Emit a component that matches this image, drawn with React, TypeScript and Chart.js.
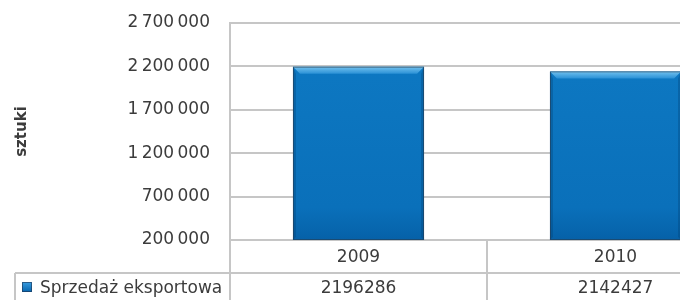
import { useEffect, useRef } from 'react';
import { Chart, registerables } from 'chart.js';

Chart.register(...registerables);

const categories = ['2009', '2010'];
const seriesName = 'Sprzedaż eksportowa';
const exportSales = [2196286, 2142427];
const yTickValues = [200000, 700000, 1200000, 1700000, 2200000, 2700000];
const yTickLabels = [
  '200\u2009000',
  '700\u2009000',
  '1\u2009200\u2009000',
  '1\u2009700\u2009000',
  '2\u2009200\u2009000',
  '2\u2009700\u2009000',
];
const yAxisTitle = 'sztuki';

const FONT = "'DejaVu Sans', sans-serif";
const TEXT = '#3c3c3c';
const GRID = '#c6c6c6';

const barStyle = {
  id: 'barStyle',
  afterDatasetsDraw(chart: any) {
    const ctx = chart.ctx;
    const area = chart.chartArea;
    const meta = chart.getDatasetMeta(0);
    meta.data.forEach((bar: any) => {
      const props = bar.getProps(['x', 'y', 'base', 'width'], true);
      const { x, y, width } = props;
      const base = Math.min(props.base, area.bottom);
      const l = x - width / 2;
      const r = x + width / 2;
      const b = 7;
      ctx.save();
      const g = ctx.createLinearGradient(0, y, 0, y + b);
      g.addColorStop(0, '#74c2ee');
      g.addColorStop(1, '#2b91d6');
      ctx.fillStyle = g;
      ctx.beginPath();
      ctx.moveTo(l, y);
      ctx.lineTo(r, y);
      ctx.lineTo(r - b, y + b);
      ctx.lineTo(l + b, y + b);
      ctx.closePath();
      ctx.fill();
      ctx.fillStyle = 'rgba(0,60,110,0.3)';
      ctx.beginPath();
      ctx.moveTo(l, y);
      ctx.lineTo(l + 3, y + b);
      ctx.lineTo(l + 3, base - 3);
      ctx.lineTo(l, base);
      ctx.closePath();
      ctx.fill();
      ctx.beginPath();
      ctx.moveTo(r, y);
      ctx.lineTo(r - 3, y + b);
      ctx.lineTo(r - 3, base - 3);
      ctx.lineTo(r, base);
      ctx.closePath();
      ctx.fill();
      ctx.strokeStyle = 'rgba(40,60,80,0.6)';
      ctx.lineWidth = 1;
      ctx.strokeRect(l + 0.5, y + 0.5, width - 1, base - y - 1);
      ctx.restore();
    });
  },
};

const dataTable = {
  id: 'dataTable',
  afterDraw(chart: any) {
    const ctx = chart.ctx;
    const area = chart.chartArea;
    const xs = chart.scales.x;
    const H = chart.height;
    const rowY = area.bottom + 33;
    const leftEdge = 15;
    ctx.save();
    ctx.strokeStyle = GRID;
    ctx.lineWidth = 2;
    ctx.beginPath();
    ctx.moveTo(area.left, area.bottom);
    ctx.lineTo(area.left, H);
    for (let i = 0; i < categories.length - 1; i++) {
      const bx = (xs.getPixelForValue(i) + xs.getPixelForValue(i + 1)) / 2;
      ctx.moveTo(bx, area.bottom);
      ctx.lineTo(bx, H);
    }
    ctx.moveTo(area.right, area.bottom);
    ctx.lineTo(area.right, H);
    ctx.moveTo(leftEdge, rowY);
    ctx.lineTo(area.right, rowY);
    ctx.moveTo(leftEdge, rowY);
    ctx.lineTo(leftEdge, H);
    ctx.stroke();

    const ky = rowY + 9;
    const kg = ctx.createLinearGradient(0, ky, 0, ky + 10);
    kg.addColorStop(0, '#3a9de0');
    kg.addColorStop(1, '#0665ad');
    ctx.fillStyle = kg;
    ctx.fillRect(22, ky, 10, 10);
    ctx.strokeStyle = 'rgba(30,50,80,0.6)';
    ctx.lineWidth = 1;
    ctx.strokeRect(22.5, ky + 0.5, 9, 9);

    ctx.fillStyle = TEXT;
    ctx.font = `17px ${FONT}`;
    ctx.textBaseline = 'middle';
    ctx.textAlign = 'left';
    ctx.fillText(seriesName, 40, rowY + 16);
    ctx.textAlign = 'center';
    exportSales.forEach((v, i) => {
      ctx.fillText(String(v), xs.getPixelForValue(i), rowY + 16);
    });
    ctx.restore();
  },
};

export default function App() {
  const ref = useRef<HTMLCanvasElement>(null);
  useEffect(() => {
    if (!ref.current) return;
    const chart = new Chart(ref.current, {
      type: 'bar',
      data: {
        labels: categories,
        datasets: [
          {
            label: seriesName,
            data: exportSales,
            backgroundColor: (c: any) => {
              const ca = c.chart.chartArea;
              if (!ca) return '#0b73bd';
              const g = c.chart.ctx.createLinearGradient(0, ca.top, 0, ca.bottom);
              g.addColorStop(0, '#0e7ac4');
              g.addColorStop(0.85, '#0a70ba');
              g.addColorStop(1, '#0661a8');
              return g;
            },
            borderWidth: 0,
            categoryPercentage: 1,
            barPercentage: 0.51,
          },
        ],
      },
      options: {
        animation: false,
        responsive: false,
        devicePixelRatio: 1,
        layout: { padding: { top: 23, left: 0, right: 0, bottom: 0 } },
        plugins: {
          legend: { display: false },
          tooltip: { enabled: false },
        },
        scales: {
          x: {
            grid: { display: false },
            border: { display: false },
            ticks: {
              color: TEXT,
              font: { family: FONT, size: 17 },
              padding: -1,
              maxRotation: 0,
            },
            afterFit: (s: any) => {
              s.height = 60;
              s.paddingLeft = 0;
              s.paddingRight = 0;
            },
          },
          y: {
            min: 200000,
            max: 2700000,
            grid: { color: GRID, lineWidth: 2, drawTicks: false },
            border: { display: true, color: GRID, width: 2 },
            ticks: {
              stepSize: 500000,
              padding: 20,
              color: TEXT,
              font: { family: FONT, size: 17 },
              callback: (value: any) => {
                const i = yTickValues.indexOf(Number(value));
                return i >= 0 ? yTickLabels[i] : '';
              },
            },
            title: {
              display: true,
              text: yAxisTitle,
              color: TEXT,
              font: { family: FONT, size: 15, weight: 'bold' },
              padding: { top: 13, bottom: 0 },
            },
            afterFit: (s: any) => {
              s.width = 230;
              s.paddingTop = 0;
              s.paddingBottom = 0;
            },
          },
        },
      },
      plugins: [barStyle, dataTable],
    });
    return () => chart.destroy();
  }, []);
  return (
    <div
      style={{
        position: 'absolute',
        left: 0,
        top: 0,
        width: 680,
        height: 300,
        overflow: 'hidden',
        background: '#fff',
      }}
    >
      <canvas ref={ref} width={744} height={300} style={{ display: 'block' }} />
    </div>
  );
}
